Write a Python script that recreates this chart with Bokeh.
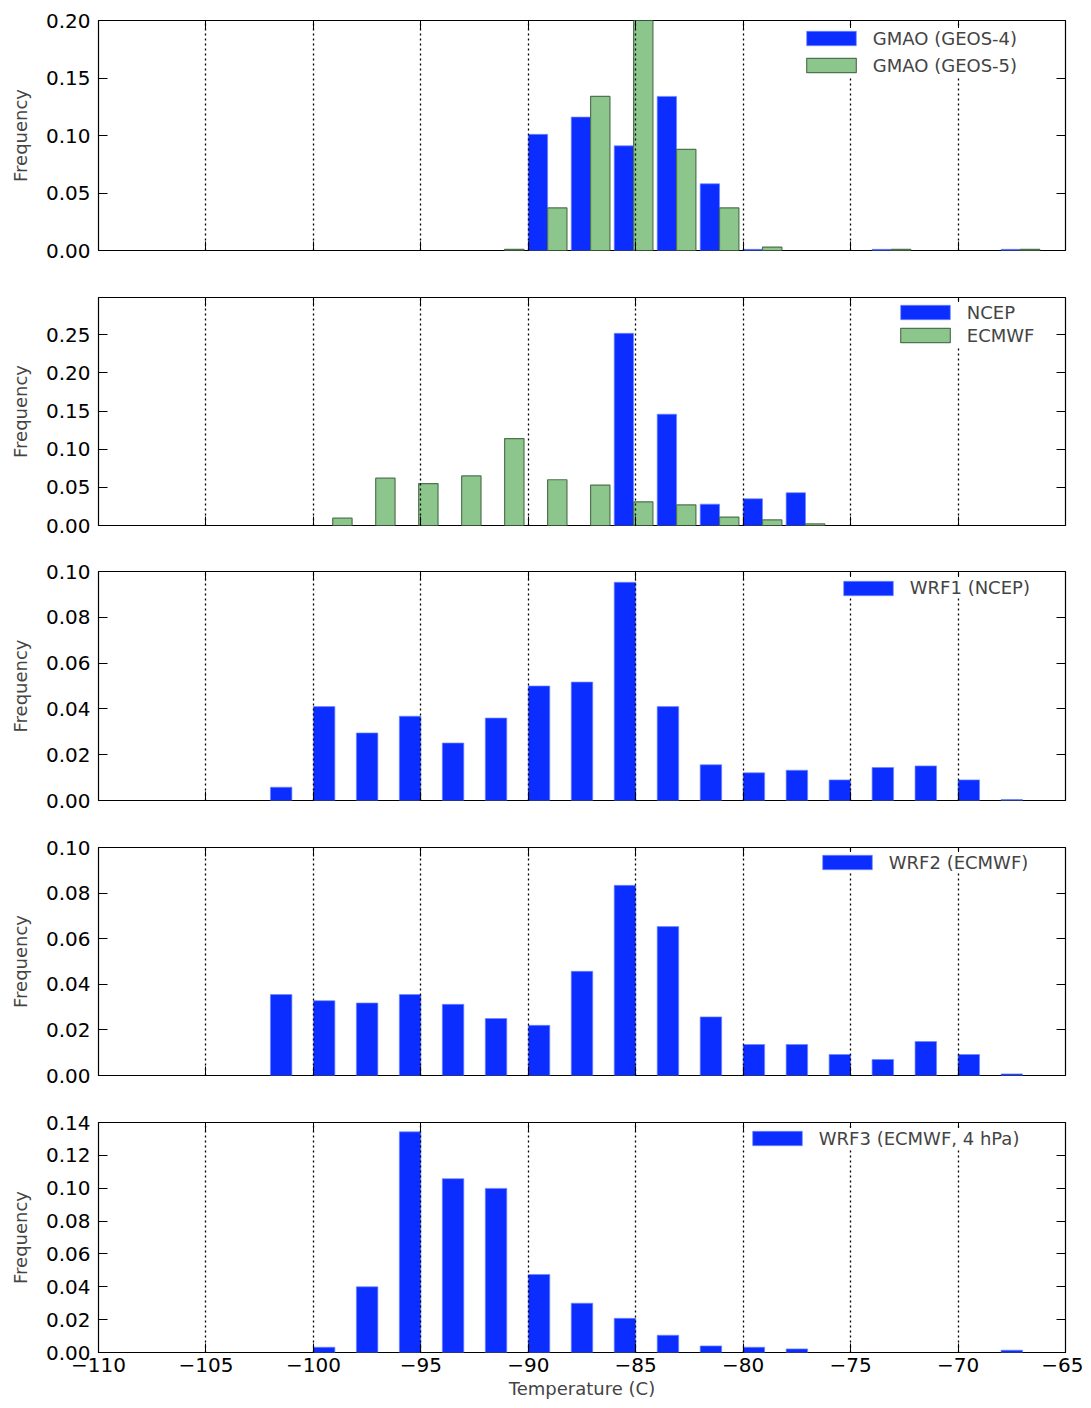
import numpy as np
from bokeh.plotting import figure
from bokeh.layouts import column
from bokeh.models import (FixedTicker, LinearAxis, NumeralTickFormatter, Range1d,
                          ColumnDataSource, CustomJSTickFormatter)
from bokeh.embed import file_html
from bokeh.resources import INLINE

# ---------------- data ----------------
x_ticks = [-110, -105, -100, -95, -90, -85, -80, -75, -70, -65]

# panel 1: GMAO (bin left edges, 2-degree bins)
bins_gmao = [-92, -90, -88, -86, -84, -82, -80, -78, -76, -74, -72, -70, -68]
gmao_geos4 = [0.0, 0.101, 0.116, 0.091, 0.134, 0.058, 0.001, 0.0, 0.0, 0.001, 0.0, 0.0, 0.001]
gmao_geos5 = [0.001, 0.037, 0.134, 0.200, 0.088, 0.037, 0.003, 0.0, 0.0, 0.001, 0.0, 0.0, 0.001]
yticks_1 = [0.0, 0.05, 0.10, 0.15, 0.20]

# panel 2: NCEP / ECMWF
bins_rean = [-100, -98, -96, -94, -92, -90, -88, -86, -84, -82, -80, -78]
ncep = [0.0, 0.0, 0.0, 0.0, 0.0, 0.0, 0.0, 0.252, 0.146, 0.028, 0.035, 0.043]
ecmwf = [0.0096, 0.062, 0.055, 0.065, 0.114, 0.060, 0.053, 0.031, 0.027, 0.011, 0.0073, 0.002]
yticks_2 = [0.0, 0.05, 0.10, 0.15, 0.20, 0.25]

# panels 3-5: WRF runs
bins_wrf = [-102, -100, -98, -96, -94, -92, -90, -88, -86, -84, -82, -80, -78, -76, -74, -72, -70, -68]
wrf1 = [0.0058, 0.041, 0.0295, 0.0368, 0.0251, 0.036, 0.050, 0.0517, 0.0953, 0.041,
        0.0156, 0.0121, 0.0132, 0.009, 0.0144, 0.0151, 0.009, 0.0004]
wrf2 = [0.0355, 0.0328, 0.0318, 0.0355, 0.0312, 0.025, 0.022, 0.0457, 0.0834, 0.0653,
        0.0257, 0.0136, 0.0136, 0.0092, 0.007, 0.0149, 0.0092, 0.0007]
wrf3 = [0.0, 0.0032, 0.040, 0.1343, 0.1058, 0.0999, 0.0475, 0.030, 0.0208, 0.0105,
        0.004, 0.0032, 0.0022, 0.0, 0.0, 0.0, 0.0, 0.0014]
yticks_wrf12 = [0.0, 0.02, 0.04, 0.06, 0.08, 0.10]
yticks_wrf3 = [0.0, 0.02, 0.04, 0.06, 0.08, 0.10, 0.12, 0.14]

# ---------------- style ----------------
FONT = "DejaVu Sans"
BLUE = "#0b2dff"
BLUE_EDGE = "#6f88ff"
GREEN_FILL = "#8dc68d"
GREEN_EDGE = "#4f734f"
FRAME_W = 967
LEFT = 98

minus_fmt = CustomJSTickFormatter(code="""
    return (tick < 0 ? "\\u2212" : "") + Math.abs(tick).toString();
""")


def make_panel(ymax, yticks, frame_h, top, bottom, last=False):
    p = figure(frame_width=FRAME_W, frame_height=frame_h,
               x_range=Range1d(-110, -65), y_range=Range1d(0, ymax),
               output_backend="svg", toolbar_location=None,
               min_border_left=LEFT, min_border_right=18,
               min_border_top=top, min_border_bottom=bottom,
               background_fill_color="white", border_fill_color="white")
    p.outline_line_color = "black"
    p.outline_line_width = 1.2
    xt = FixedTicker(ticks=x_ticks)
    yt = FixedTicker(ticks=yticks)
    p.xaxis.ticker = xt
    p.yaxis.ticker = yt
    p.add_layout(LinearAxis(ticker=FixedTicker(ticks=x_ticks)), "above")
    p.add_layout(LinearAxis(ticker=FixedTicker(ticks=yticks)), "right")
    for ax in p.axis:
        ax.major_tick_in = 9
        ax.major_tick_out = 0
        ax.minor_tick_line_color = None
        ax.axis_line_color = None
        ax.major_tick_line_color = "black"
        ax.major_tick_line_width = 1
        ax.major_label_text_font = FONT
        ax.major_label_text_font_size = "20px"
        ax.major_label_text_color = "black"
    p.above[0].major_label_text_color = None
    p.right[0].major_label_text_color = None
    p.yaxis[0].formatter = NumeralTickFormatter(format="0.00")
    p.yaxis[0].major_label_standoff = 8
    p.yaxis[0].axis_label = "Frequency"
    p.yaxis[0].axis_label_text_font = FONT
    p.yaxis[0].axis_label_text_font_size = "18px"
    p.yaxis[0].axis_label_text_font_style = "normal"
    p.yaxis[0].axis_label_standoff = 12
    bx = p.below[0]
    if last:
        bx.formatter = minus_fmt
        bx.major_label_standoff = 5
        bx.axis_label = "Temperature (C)"
        bx.axis_label_text_font = FONT
        bx.axis_label_text_font_size = "18px"
        bx.axis_label_text_font_style = "normal"
        bx.axis_label_standoff = 3
    else:
        bx.major_label_text_color = None
    p.xgrid.ticker = FixedTicker(ticks=x_ticks)
    p.xgrid.grid_line_color = "black"
    p.xgrid.grid_line_dash = "2 3"
    p.xgrid.grid_line_width = 1.3
    p.xgrid.level = "guide"
    p.ygrid.visible = False
    return p


def bars(p, bins, vals, offset, width, fill, edge, label, lw=1.0):
    left = np.array(bins, dtype=float) + offset
    top = np.array(vals, dtype=float)
    keep = top > 0
    src = ColumnDataSource(dict(left=left[keep], right=left[keep] + width, top=top[keep]))
    p.quad(left="left", right="right", bottom=0, top="top", source=src,
           fill_color=fill, line_color=edge, line_width=lw, legend_label=label)


def place_legend(p, swatch_left, first_center, gap, n, frame_h):
    lg = p.legend[0]
    pad = 3
    gw, gh, item_h = 62, 18, 21
    spacing = gap - item_h if n > 1 else 0
    lg.level = "overlay"
    lg.padding = pad
    lg.margin = 0
    lg.spacing = int(round(spacing))
    lg.glyph_width = gw
    lg.glyph_height = gh
    lg.label_height = item_h
    lg.label_standoff = 11
    lg.label_text_font = FONT
    lg.label_text_font_size = "18px"
    lg.border_line_color = None
    lg.background_fill_color = "white"
    lg.background_fill_alpha = 1.0
    box_h = 2 * pad + n * item_h + (n - 1) * lg.spacing
    vx = swatch_left - 98 - 0.1 * gw - pad + 3
    top_off = first_center - item_h / 2 - pad - 3
    vy = frame_h - top_off - box_h
    lg.location = (vx, vy)


# panel 1
p1 = make_panel(0.20, yticks_1, 230, 20, 20)
bars(p1, bins_gmao, gmao_geos4, 0.0, 0.9, BLUE, BLUE_EDGE, "GMAO (GEOS-4)", 0.7)
bars(p1, bins_gmao, gmao_geos5, 0.9, 0.9, GREEN_FILL, GREEN_EDGE, "GMAO (GEOS-5)", 1.2)
place_legend(p1, 806, 18, 26.5, 2, 230)

# panel 2
p2 = make_panel(0.299, yticks_2, 228, 27, 20)
bars(p2, bins_rean, ncep, 0.0, 0.9, BLUE, BLUE_EDGE, "NCEP", 0.7)
bars(p2, bins_rean, ecmwf, 0.9, 0.9, GREEN_FILL, GREEN_EDGE, "ECMWF", 1.2)
place_legend(p2, 900, 15, 22.5, 2, 228)

# panel 3
p3 = make_panel(0.10, yticks_wrf12, 229, 26, 20)
bars(p3, bins_wrf, wrf1, 0.0, 1.0, BLUE, BLUE_EDGE, "WRF1 (NCEP)", 0.7)
place_legend(p3, 843, 16.5, 0, 1, 229)

# panel 4
p4 = make_panel(0.10, yticks_wrf12, 228, 27, 20)
bars(p4, bins_wrf, wrf2, 0.0, 1.0, BLUE, BLUE_EDGE, "WRF2 (ECMWF)", 0.7)
place_legend(p4, 822, 15, 0, 1, 228)

# panel 5
p5 = make_panel(0.14, yticks_wrf3, 230, 27, 52, last=True)
bars(p5, bins_wrf, wrf3, 0.0, 1.0, BLUE, BLUE_EDGE, "WRF3 (ECMWF, 4 hPa)", 0.7)
place_legend(p5, 752, 16, 0, 1, 230)

layout = column(p1, p2, p3, p4, p5)
open("out.html", "w").write(file_html(layout, INLINE))
